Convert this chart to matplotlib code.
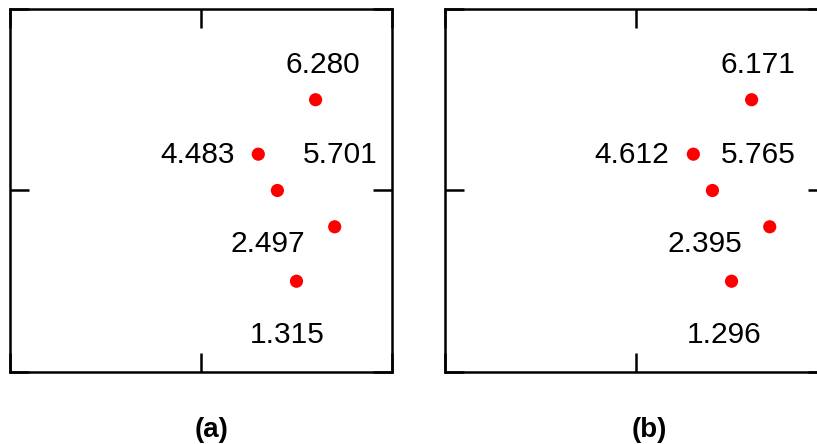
import matplotlib
matplotlib.use("Agg")
import matplotlib.pyplot as plt

plt.rcParams['font.family'] = ['Liberation Sans', 'DejaVu Sans']

# panel (a)
x_a = [1.60, 1.30, 1.40, 1.70, 1.50]
y_a = [1.50, 1.20, 1.00, 0.80, 0.50]
labels_a = ["6.280", "4.483", "5.701", "2.497", "1.315"]
lx_a = [1.64, 0.98, 1.73, 1.35, 1.45]
ly_a = [1.71, 1.21, 1.21, 0.72, 0.22]

# panel (b)
x_b = [1.605, 1.30, 1.40, 1.70, 1.50]
y_b = [1.50, 1.20, 1.00, 0.80, 0.50]
labels_b = ["6.171", "4.612", "5.765", "2.395", "1.296"]
lx_b = [1.64, 0.98, 1.64, 1.36, 1.46]
ly_b = [1.71, 1.21, 1.21, 0.72, 0.22]

fig = plt.figure(figsize=(8.17, 4.44), dpi=100)

panels = [
    ([0.0122, 0.1622, 0.4676, 0.8176], x_a, y_a, labels_a, lx_a, ly_a, "(a)", 0.2595),
    ([0.5447, 0.1622, 0.4676, 0.8176], x_b, y_b, labels_b, lx_b, ly_b, "(b)", 0.7944),
]

for pos, xs, ys, labs, lxs, lys, cap, cx in panels:
    ax = fig.add_axes(pos)
    ax.scatter(xs, ys, s=90, color="#ff0000", edgecolors="none", zorder=3)
    for t, lx, ly in zip(labs, lxs, lys):
        ax.text(lx, ly, t, fontsize=21.5, ha="center", va="center_baseline", color="black")
    ax.set_xlim(0, 2)
    ax.set_ylim(0, 2)
    ax.set_xticks([0, 1, 2])
    ax.set_yticks([0, 1, 2])
    ax.tick_params(direction="in", length=13.5, width=1.8, top=True, right=True,
                   labelbottom=False, labelleft=False)
    for sp in ax.spines.values():
        sp.set_linewidth(1.8)
    fig.text(cx, 0.038, cap, fontsize=20, fontweight="bold", ha="center", va="center_baseline")

fig.savefig("out.png", dpi=100)
